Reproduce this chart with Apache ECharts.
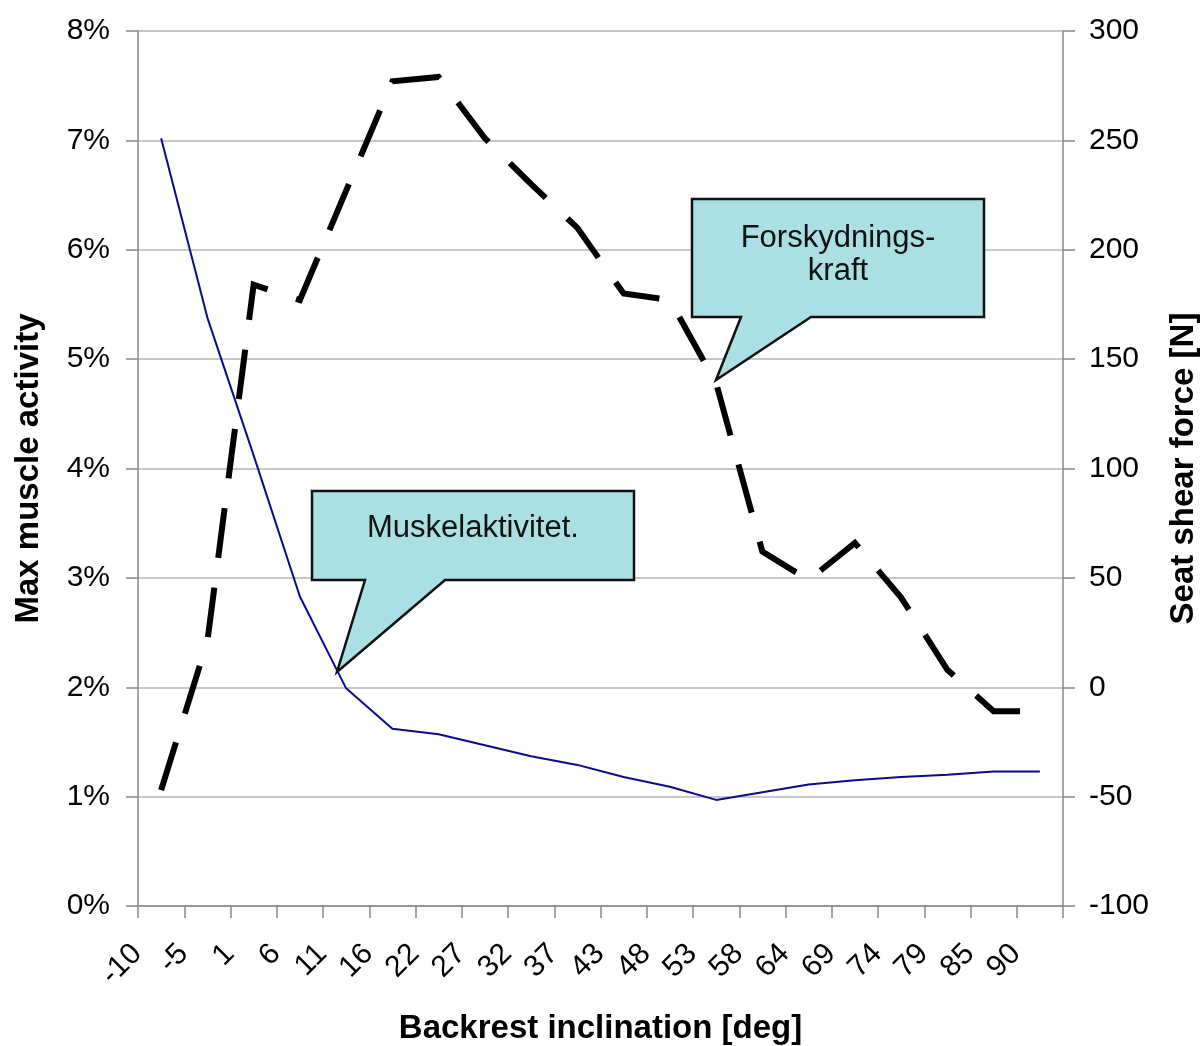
<!DOCTYPE html>
<html>
<head>
<meta charset="utf-8">
<script src="https://cdn.jsdelivr.net/npm/echarts@6/dist/echarts.min.js"></script>
<style>
html,body{margin:0;padding:0;background:#fff;overflow:hidden;}
#chart{width:1200px;height:1046px;display:block;}
</style>
</head>
<body>
<div id="chart"></div>
<script>
// Backrest inclination categories [deg]
const categories = ['-10','-5','1','6','11','16','22','27','32','37','43','48','53','58','64','69','74','79','85','90'];
// Max muscle activity [%]
const muscleActivity = [7.02, 5.38, 4.12, 2.83, 1.99, 1.62, 1.57, 1.47, 1.37, 1.29, 1.18, 1.09, 0.97, 1.04, 1.11, 1.15, 1.18, 1.20, 1.23, 1.23];
// Seat shear force [N]
const shearForce = [-47, 21, 184, 177, 227, 277, 279, 251, 230, 210, 180, 177, 139, 62, 49, 66, 41, 8, -11, -11];

const FONT = 'Liberation Sans, Arial, sans-serif';
const chart = echarts.init(document.getElementById('chart'), null, {renderer: 'canvas', width: 1200, height: 1046});

const option = {
  animation: false,
  backgroundColor: '#ffffff',
  grid: {left: 138, width: 925, top: 31, height: 875, containLabel: false, outerBoundsMode: 'none'},
  xAxis: {
    type: 'category',
    data: categories,
    boundaryGap: true,
    name: 'Backrest inclination [deg]',
    nameLocation: 'middle',
    nameGap: 106,
    nameTextStyle: {fontFamily: FONT, fontSize: 33, fontWeight: 'bold', color: '#000'},
    axisLine: {lineStyle: {color: '#888888', width: 1.5}},
    axisTick: {show: true, length: 12, alignWithLabel: false, lineStyle: {color: '#888888', width: 1.5}},
    axisLabel: {rotate: 45, margin: 19, padding: [0, 34, 0, 0], fontFamily: FONT, fontSize: 30, color: '#000', interval: 0},
    splitLine: {show: false}
  },
  yAxis: [
    {
      type: 'value', min: 0, max: 8, interval: 1, position: 'left',
      name: 'Max muscle activity',
      nameLocation: 'middle', nameRotate: 90, nameGap: 93,
      nameTextStyle: {fontFamily: FONT, fontSize: 33, fontWeight: 'bold', color: '#000'},
      axisLine: {show: true, lineStyle: {color: '#888888', width: 1.5}},
      axisTick: {show: true, length: 12, lineStyle: {color: '#888888', width: 1.5}},
      axisLabel: {formatter: '{value}%', margin: 28, fontFamily: FONT, fontSize: 30, color: '#000'},
      splitLine: {show: true, lineStyle: {color: '#c8c8c8', width: 2}}
    },
    {
      type: 'value', min: -100, max: 300, interval: 50, position: 'right',
      name: 'Seat shear force [N]',
      nameLocation: 'middle', nameRotate: 90, nameGap: 104,
      nameTextStyle: {fontFamily: FONT, fontSize: 33, fontWeight: 'bold', color: '#000'},
      axisLine: {show: true, lineStyle: {color: '#888888', width: 1.5}},
      axisTick: {show: true, length: 12, lineStyle: {color: '#888888', width: 1.5}},
      axisLabel: {margin: 26, fontFamily: FONT, fontSize: 30, color: '#000'},
      splitLine: {show: false}
    }
  ],
  series: [
    {
      name: 'Forskydningskraft',
      type: 'line',
      yAxisIndex: 1,
      data: shearForce,
      symbol: 'none',
      lineStyle: {color: '#000000', width: 6, type: [50, 30], cap: 'butt', join: 'miter'},
      z: 2
    },
    {
      name: 'Muskelaktivitet',
      type: 'line',
      yAxisIndex: 0,
      data: muscleActivity,
      symbol: 'none',
      lineStyle: {color: '#0a0a8c', width: 2},
      z: 3
    }
  ],
  graphic: [
    {
      type: 'polygon', z: 100,
      shape: {points: [[312,491],[634,491],[634,580],[445,580],[337,672],[365,580],[312,580]]},
      style: {fill: '#aae0e4', stroke: '#111', lineWidth: 2.5}
    },
    {
      type: 'text', z: 101, x: 473, y: 528,
      style: {text: 'Muskelaktivitet.', font: '31px ' + FONT, fill: '#111', align: 'center', verticalAlign: 'middle'}
    },
    {
      type: 'polygon', z: 100,
      shape: {points: [[692,199],[984,199],[984,317],[811,317],[716,380],[741,317],[692,317]]},
      style: {fill: '#aae0e4', stroke: '#111', lineWidth: 2.5}
    },
    {
      type: 'text', z: 101, x: 838, y: 255,
      style: {text: 'Forskydnings-\nkraft', font: '31px ' + FONT, fill: '#111', align: 'center', verticalAlign: 'middle', lineHeight: 33}
    }
  ]
};
chart.setOption(option);
</script>
</body>
</html>
